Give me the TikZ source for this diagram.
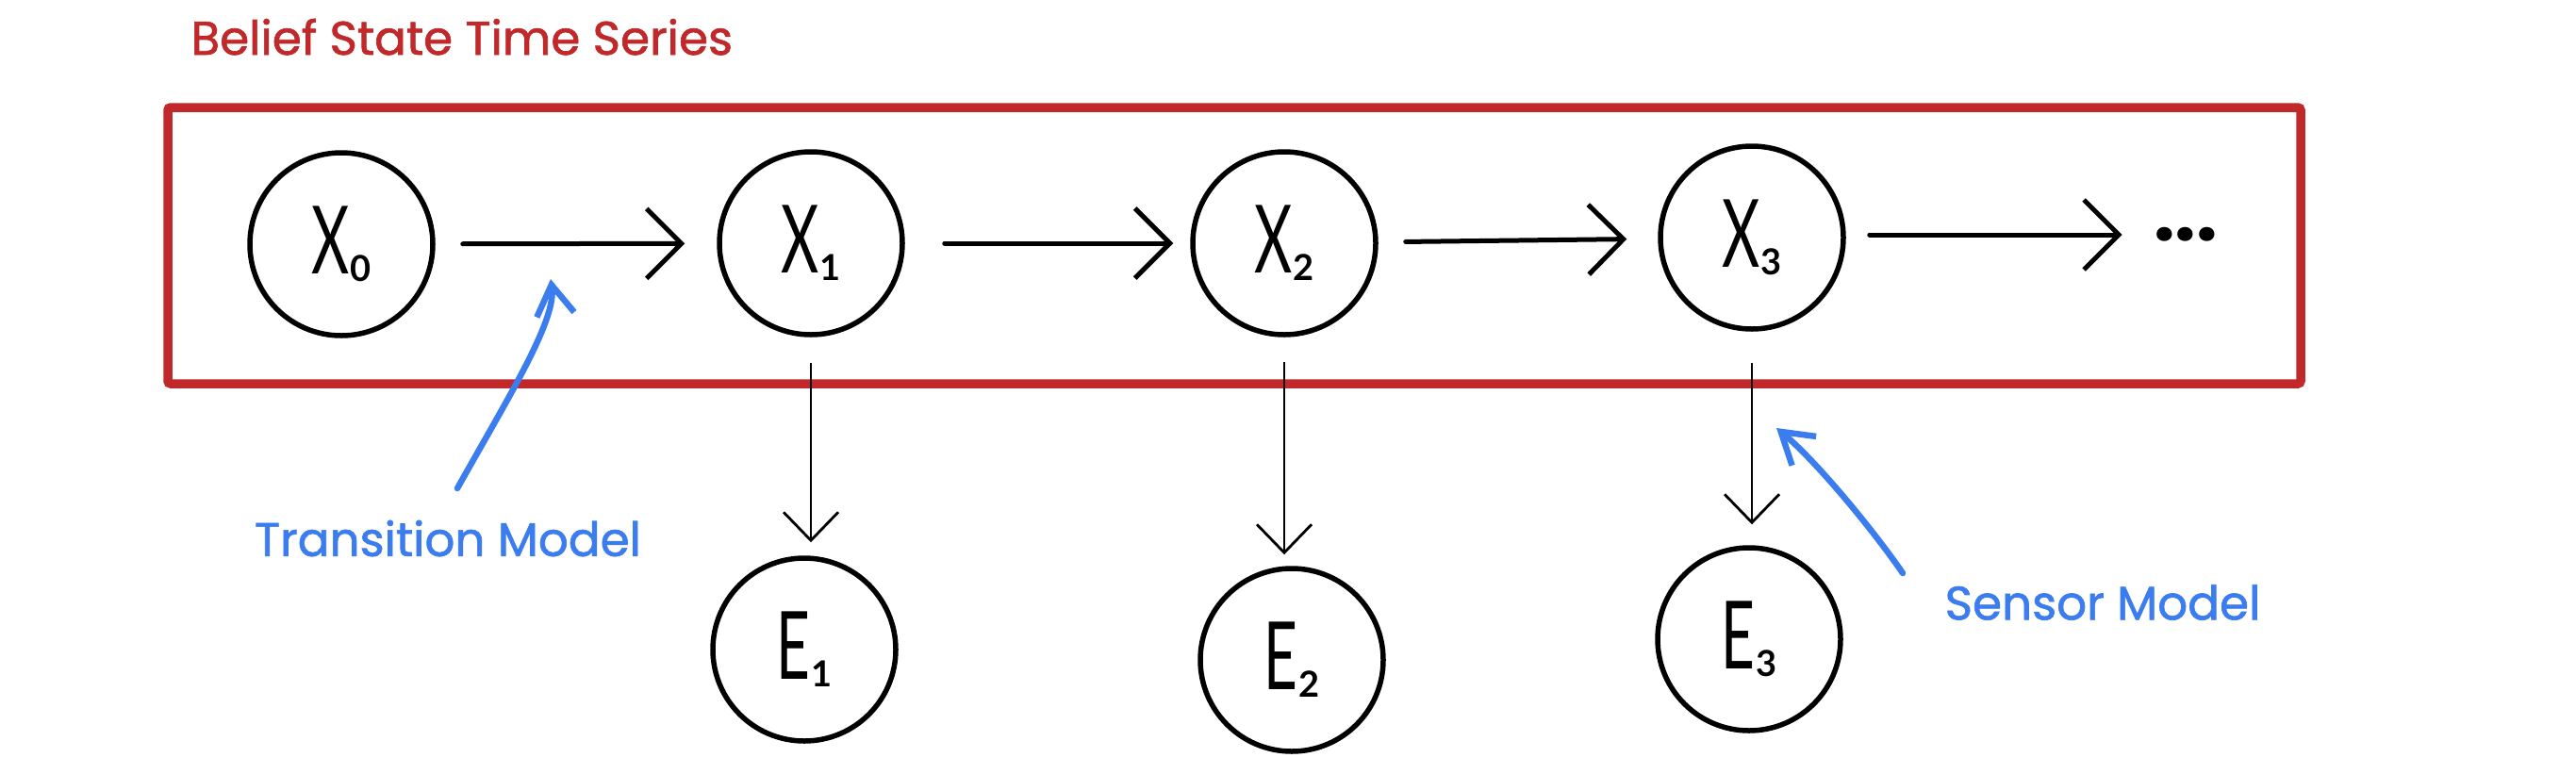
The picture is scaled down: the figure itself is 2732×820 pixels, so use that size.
\documentclass[tikz,border=0pt]{standalone}
\usepackage{graphicx}
\usepackage{fontspec}
\setmainfont{Poppins}
\newfontfamily\labelfont{Poppins}[FakeBold=1.3]
\newfontfamily\handfont{Lato}
\usetikzlibrary{arrows.meta,calc}
\definecolor{bsred}{RGB}{192,40,42}
\definecolor{bsblue}{RGB}{59,124,238}
\newcommand\statelbl[2]{{\handfont\fontsize{100}{100}\selectfont\scalebox{0.62}[1]{#1}\kern1pt\raisebox{-8pt}{\fontsize{38}{38}\selectfont\bfseries #2}}}
\begin{document}
\begin{tikzpicture}[x=1pt,y=-1pt,
  state/.style={circle,draw,line width=5.5pt,minimum size=194pt,inner sep=0pt},
  flow/.style={line width=5pt,line cap=round,-{Straight Barb[length=37pt,width=74pt]}},
  sense/.style={line width=2.8pt,-{Straight Barb[length=30pt,width=58pt]}},
  note/.style={bsblue,line width=6.5pt,line cap=round,-{Straight Barb[length=32pt,width=40pt]}},
  lbl/.style={text=bsblue,font=\labelfont\fontsize{50}{50}\selectfont},
]
\useasboundingbox[fill=white] (0,0) rectangle (2732,820);
% frame
\draw[bsred,line width=9.5pt,rounded corners=3pt] (178,114) rectangle (2440,407);
\node[anchor=base west,text=bsred,font=\labelfont\fontsize{50}{50}\selectfont] (title) at (199,58) {Belief State Time Series};
% states
\node[state] (X0) at (362,259) {\statelbl{X}{0}};
\node[state] (X1) at (860,258) {\statelbl{X}{1}};
\node[state] (X2) at (1362,258) {\statelbl{X}{2}};
\node[state] (X3) at (1858,252) {\statelbl{X}{3}};
\node[font=\fontsize{80}{80}\selectfont\bfseries] (dots) at (2318,249) {...};
% evidence
\node[state] (E1) at (853,689) {\statelbl{E}{1}};
\node[state] (E2) at (1370,700) {\statelbl{E}{2}};
\node[state] (E3) at (1855,678) {\statelbl{E}{3}};
% transitions
\draw[flow,shorten <=29pt,shorten >=34pt] (X0) -- (X1);
\draw[flow,shorten <=42pt,shorten >=18pt] (X1) -- (X2);
\draw[flow,shorten <=29pt,shorten >=33pt] (X2) -- (X3);
\draw[flow,shorten <=25pt,shorten >=30pt] (X3.east |- dots) -- (dots);
% sensors
\draw[sense,shorten <=27pt,shorten >=14pt] (X1.south) -- (X1.south |- E1.north);
\draw[sense,shorten <=26pt,shorten >=12pt] (X2.south) -- (X2.south |- E2.north);
\draw[sense,shorten <=33pt,shorten >=22pt] (X3.south) -- (X3.south |- E3.north);
% annotations
\node[lbl] (tm) at (475,571) {Transition Model};
\node[lbl] (sm) at (2230,639) {Sensor Model};
\coordinate (tmtail) at (485,518);
\coordinate (tmtip) at (584,296);
\draw[note] (tmtail) .. controls (540,420) and (590,340) .. (tmtip);
\coordinate (smtail) at (2018,608);
\coordinate (smtip) at (1884,454);
\draw[note] (smtail) .. controls (1985,560) and (1925,488) .. (smtip);
\end{tikzpicture}
\end{document}
